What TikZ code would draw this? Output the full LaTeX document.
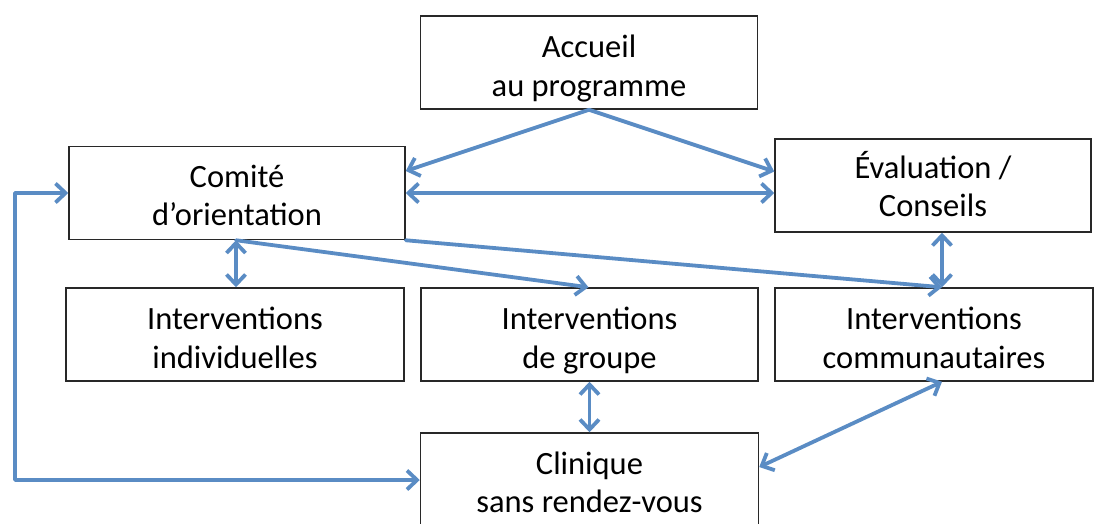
\documentclass[tikz,border=0pt]{standalone}
\usepackage{fontspec}
\setmainfont{Carlito}
\usetikzlibrary{arrows.meta,calc}
\definecolor{linkblue}{RGB}{90,140,196}
\definecolor{boxline}{RGB}{40,40,40}
\begin{document}
\begin{tikzpicture}[x=1pt,y=-1pt,
  box/.style={draw=boxline,line width=1.5pt,rectangle,inner sep=0pt,fill=white},
  caption/.style={align=center,inner sep=0pt,font=\fontsize{32.5}{38.5}\selectfont},
  link/.style={draw=linkblue,line width=3.8pt,line cap=round,line join=round,
    {Straight Barb[length=10pt,width=19pt,line width=3.8pt]}-{Straight Barb[length=10pt,width=19pt,line width=3.8pt]}},
  oneway/.style={draw=linkblue,line width=3.8pt,line cap=round,line join=round,
    -{Straight Barb[length=10pt,width=19pt,line width=3.8pt]}}]
\useasboundingbox (0,0) rectangle (1102,523);

% boxes
\node[box,minimum width=337pt,minimum height=93pt] (acc) at (589,62.5) {};
\node[box,minimum width=336pt,minimum height=93pt] (com) at (237,193) {};
\node[box,minimum width=316pt,minimum height=93pt] (eva) at (933,185.5) {};
\node[box,minimum width=338pt,minimum height=93pt] (ind) at (235,334.5) {};
\node[box,minimum width=337pt,minimum height=93pt] (grp) at (589.5,334.5) {};
\node[box,minimum width=318pt,minimum height=93pt] (comm) at (934,334.5) {};
\node[box,minimum width=338pt,minimum height=94pt] (cli) at (589.5,480) {};

% box texts, each line on the same strut so that all boxes align
\node[caption] (acct) at ([yshift=-7pt]acc.center) {\strut Accueil\\\strut au programme};
\node[caption] (comt) at ([yshift=-6pt]com.center) {\strut Comité\\\strut d’orientation};
\node[caption] (evat) at ([yshift=-4pt]eva.center) {\strut Évaluation /\\\strut Conseils};
\node[caption] (indt) at ([yshift=-7pt]ind.center) {\strut Interventions\\\strut individuelles};
\node[caption] (grpt) at ([yshift=-7pt]grp.center) {\strut Interventions\\\strut de groupe};
\node[caption] (commt) at ([yshift=-7pt]comm.center) {\strut Interventions\\\strut communautaires};
\node[caption] (clit) at ([yshift=-6pt]cli.center) {\strut Clinique\\\strut sans rendez-vous};

% connector anchors
\coordinate (accs) at (acc.south);
\coordinate (loop) at (15,330);
\coordinate (commtop) at ([xshift=8pt]comm.north);
\coordinate (commbot) at ([xshift=8pt]comm.south);
\coordinate (evabot) at ([xshift=9pt]eva.south);

% connectors
\draw[oneway] (accs) -- ([yshift=22pt]com.east);
\draw[oneway] (accs) -- ([yshift=14pt]eva.west);
\draw[link] (com.east) -- (com.east -| eva.west);
\draw[link] (com.west) -| (loop) |- (cli.west);
\draw[link] ([xshift=-1pt]com.south) -- ([xshift=-1pt]com.south |- ind.north);
\draw[oneway] ([xshift=-1pt]com.south) -- ([xshift=-1pt]grp.north);
\draw[oneway] (com.south east) -- (commtop);
\draw[link] (evabot) -- (commtop);
\draw[link] (grp.south) -- (cli.north);
\draw[link] ([yshift=13pt]cli.east) -- (commbot);
\end{tikzpicture}
\end{document}
